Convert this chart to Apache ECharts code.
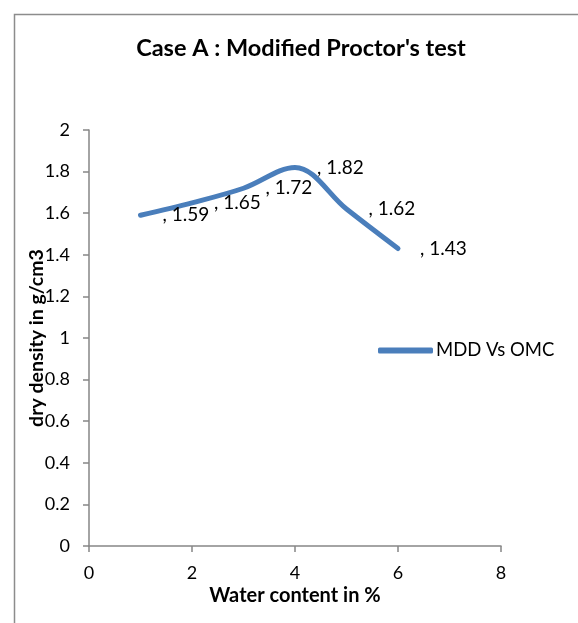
<!DOCTYPE html>
<html>
<head>
<meta charset="utf-8">
<script src="https://cdn.jsdelivr.net/npm/echarts@6/dist/echarts.min.js"></script>
<style>
    html, body { margin: 0; padding: 0; background: #fff; }
    #chart { width: 578px; height: 623px; }
</style>
</head>
<body>
<div id="chart"></div>
<script>
    // water content (%) vs dry density (g/cm3)
    const waterContent = [1, 2, 3, 4, 5, 6]
    const dryDensity = [1.59, 1.65, 1.72, 1.82, 1.62, 1.43]
    const seriesName = 'MDD Vs OMC'

    const font = 'Lato, "Liberation Sans", sans-serif'
    let chart = echarts.init(document.getElementById('chart'))
    let option = {
        animation: false,
        backgroundColor: '#fff',
        textStyle: { fontFamily: font },
        graphic: [{
            type: 'rect',
            left: 12, top: 12,
            shape: { width: 640, height: 700 },
            style: { fill: 'none', stroke: '#8c8c8c', lineWidth: 1.5 }
        }],
        title: {
            text: "Case A : Modified Proctor's test",
            left: 296, top: 31, textAlign: 'center',
            textStyle: { fontFamily: font, fontSize: 23.5, fontWeight: 'bold', color: '#000' }
        },
        legend: {
            left: 373, top: 336,
            itemWidth: 55, itemHeight: 6, itemGap: 5,
            icon: 'roundRect',
            textStyle: { fontFamily: font, fontSize: 18.5, color: '#000', padding: [0, 0, 0, -2] },
            data: [seriesName]
        },
        grid: { left: 89, right: 77, top: 130, bottom: 77 },
        xAxis: {
            type: 'value', min: 0, max: 8, interval: 2,
            name: 'Water content in %',
            nameLocation: 'middle', nameGap: 40, nameMoveOverlap: false,
            nameTextStyle: { fontFamily: font, fontSize: 20, fontWeight: 'bold', color: '#000' },
            axisLine: { lineStyle: { color: '#868686', width: 1.5 } },
            axisTick: { show: true, length: 6, lineStyle: { color: '#868686', width: 1.5 } },
            axisLabel: { fontSize: 18, color: '#000', margin: 18 },
            splitLine: { show: false }
        },
        yAxis: {
            type: 'value', min: 0, max: 2, interval: 0.2,
            name: 'dry density in g/cm3',
            nameLocation: 'middle', nameGap: 42, nameRotate: 90, nameMoveOverlap: false,
            nameTextStyle: { fontFamily: font, fontSize: 19.5, fontWeight: 'bold', color: '#000' },
            axisLine: { show: true, lineStyle: { color: '#868686', width: 1.5 } },
            axisTick: { show: true, length: 6, lineStyle: { color: '#868686', width: 1.5 } },
            axisLabel: { fontSize: 18, color: '#000', margin: 19 },
            splitLine: { show: false }
        },
        series: [{
            name: seriesName,
            type: 'line',
            smooth: 0.35,
            symbol: 'circle',
            symbolSize: 2,
            showSymbol: true,
            data: waterContent.map((x, i) => [x, dryDensity[i]]),
            lineStyle: { color: '#4a7ebb', width: 5, cap: 'round' },
            itemStyle: { color: '#4a7ebb' },
            label: {
                show: true, position: 'right', distance: 21,
                fontSize: 19, color: '#000',
                formatter: p => ', ' + p.value[1]
            }
        }]
    }
    chart.setOption(option)
</script>
</body>
</html>
